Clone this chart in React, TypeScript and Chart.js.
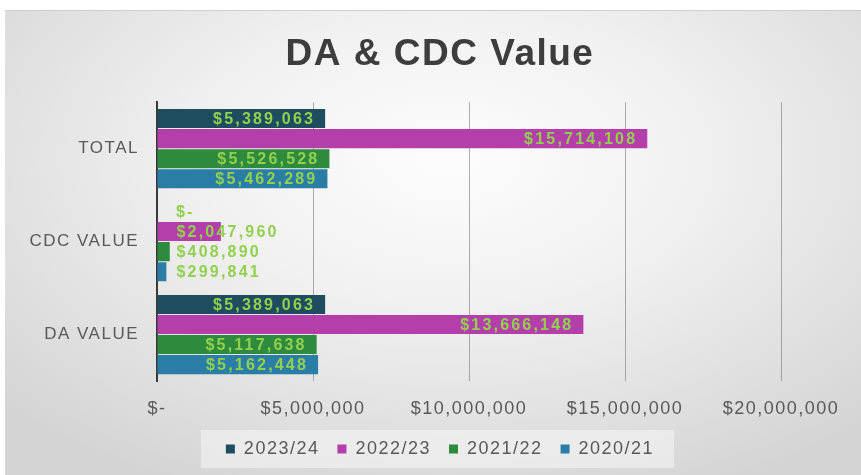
import React, { useEffect, useRef } from 'react';
import { Chart, registerables } from 'chart.js';

Chart.register(...registerables);

const categories = ['TOTAL', 'CDC VALUE', 'DA VALUE'];
const seriesNames = ['2023/24', '2022/23', '2021/22', '2020/21'];
const values2023_24 = [5389063, 0, 5389063];
const values2022_23 = [15714108, 2047960, 13666148];
const values2021_22 = [5526528, 408890, 5117638];
const values2020_21 = [5462289, 299841, 5162448];
const xMin = 0;
const xMax = 20000000;
const xStep = 5000000;
const seriesColors = ['#1e4d60', '#b43fab', '#2e8a3c', '#2a7ea6'];
const chartTitle = 'DA & CDC Value';

const FONT = '"Liberation Sans", Arial, sans-serif';

const fmt = (v: number) => (v === 0 ? '$-' : '$' + v.toLocaleString('en-US'));

const spacingPlugin = {
  id: 'spacing',
  beforeLayout(chart: any) {
    chart.ctx.letterSpacing = '1.5px';
  },
  beforeDraw(chart: any) {
    const ctx = chart.ctx;
    ctx.letterSpacing = '1.5px';
    const lg = chart.legend;
    if (lg && lg.legendHitBoxes && lg.legendHitBoxes.length) {
      const hb = lg.legendHitBoxes;
      let l = Infinity, r = -Infinity, t = Infinity, b = -Infinity;
      hb.forEach((h: any) => {
        l = Math.min(l, h.left);
        r = Math.max(r, h.left + h.width);
        t = Math.min(t, h.top);
        b = Math.max(b, h.top + h.height);
      });
      const cy = (t + b) / 2;
      ctx.save();
      ctx.fillStyle = 'rgba(250,250,250,0.5)';
      ctx.fillRect(l - 25, cy - 19, r - l + 45, 38);
      ctx.restore();
    }
  },
};

const labelPlugin = {
  id: 'barLabels',
  afterDatasetsDraw(chart: any) {
    const ctx = chart.ctx;
    ctx.save();
    ctx.font = `bold 16px ${FONT}`;
    ctx.letterSpacing = '2.2px';
    ctx.fillStyle = '#92d050';
    ctx.textBaseline = 'middle';
    chart.data.datasets.forEach((ds: any, di: number) => {
      const meta = chart.getDatasetMeta(di);
      meta.data.forEach((el: any, i: number) => {
        const v = ds.data[i];
        const text = fmt(v);
        const w = ctx.measureText(text).width;
        const len = el.x - el.base;
        if (w + 16 <= len) {
          ctx.textAlign = 'right';
          ctx.fillText(text, el.x - 10, el.y + 1);
        } else {
          ctx.textAlign = 'left';
          ctx.fillText(text, el.base + 19, el.y + 1);
        }
      });
    });
    ctx.restore();
  },
};

export default function App() {
  const ref = useRef<HTMLCanvasElement>(null);

  useEffect(() => {
    if (!ref.current) return;
    const allSeries = [values2023_24, values2022_23, values2021_22, values2020_21];
    const chart = new Chart(ref.current, {
      type: 'bar',
      data: {
        labels: categories,
        datasets: seriesNames.map((name, i) => ({
          label: name,
          data: allSeries[i],
          backgroundColor: seriesColors[i],
          borderWidth: 0,
          categoryPercentage: 0.863,
          barPercentage: 0.95,
        })),
      },
      options: {
        indexAxis: 'y',
        responsive: false,
        animation: false,
        devicePixelRatio: 1,
        layout: { padding: { left: 14, right: 0, top: 13, bottom: 7 } },
        plugins: {
          title: {
            display: true,
            text: chartTitle,
            color: '#3d3d3d',
            font: { family: FONT, size: 37, weight: 'bold', lineHeight: 1.2 },
            padding: { top: 10, bottom: 24.8 },
          },
          legend: {
            display: true,
            position: 'bottom',
            labels: {
              boxWidth: 9,
              boxHeight: 9,
              padding: 18,
              color: '#595959',
              font: { family: FONT, size: 18 },
            },
          },
          tooltip: { enabled: false },
        },
        scales: {
          x: {
            type: 'linear',
            min: xMin,
            max: xMax,
            ticks: {
              stepSize: xStep,
              color: '#595959',
              font: { family: FONT, size: 18 },
              padding: 17,
              callback: (v: any) => fmt(Number(v)),
            },
            grid: {
              display: true,
              drawTicks: false,
              color: 'rgba(110,110,110,0.55)',
              lineWidth: 1,
            },
            border: { display: false },
            afterFit: (s: any) => {
              s.paddingLeft = 0;
              s.paddingRight = 80;
              s.height = 41;
            },
          },
          y: {
            ticks: {
              color: '#595959',
              font: { family: FONT, size: 17 },
              padding: 18,
            },
            grid: { display: false, drawTicks: false },
            border: { display: true, color: '#3a3a3a', width: 2 },
            afterFit: (s: any) => {
              s.width = 138;
              s.paddingTop = 0;
              s.paddingBottom = 0;
            },
          },
        },
      },
      plugins: [spacingPlugin, labelPlugin],
    } as any);
    return () => chart.destroy();
  }, []);

  return (
    <div
      style={{
        position: 'fixed',
        left: 0,
        top: 0,
        width: 861,
        height: 475,
        overflow: 'hidden',
        background: '#ffffff',
      }}
    >
      <div
        style={{
          position: 'absolute',
          left: 5,
          top: 10,
          width: 856,
          height: 465,
          borderTop: '1px solid #cfcfcf',
          boxSizing: 'border-box',
          background:
            'radial-gradient(ellipse 72% 78% at 52% 32%, #fdfdfd 0%, #f1f1f1 40%, #e0e0e0 75%, #d4d4d4 100%)',
        }}
      />
      <canvas
        ref={ref}
        width={856}
        height={465}
        style={{ position: 'absolute', left: 5, top: 10, width: 856, height: 465 }}
      />
    </div>
  );
}
